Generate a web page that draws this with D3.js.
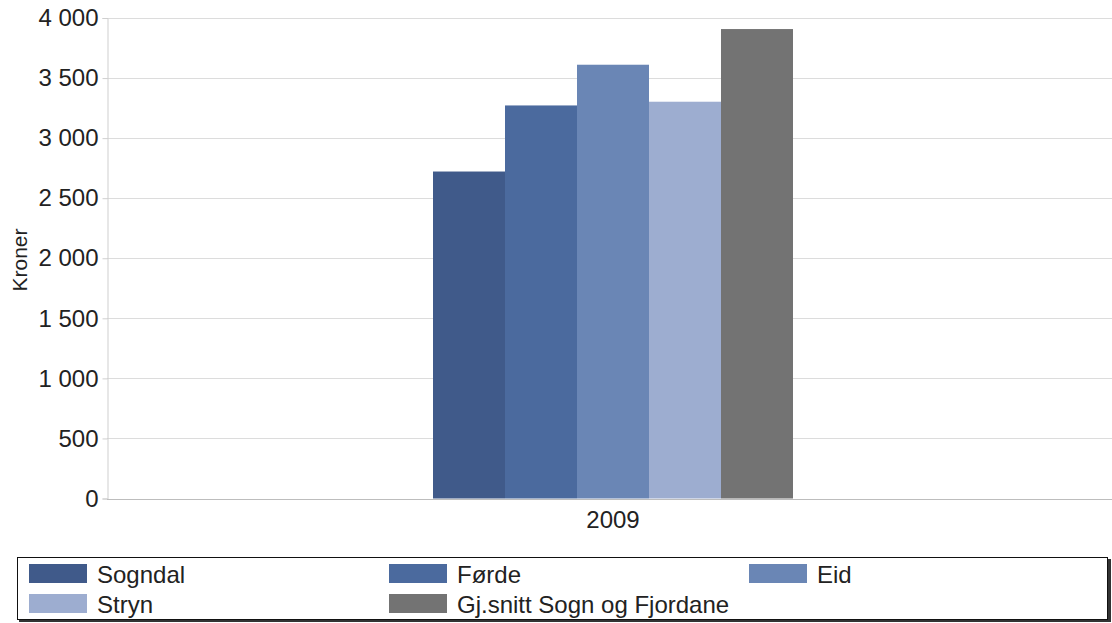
<!DOCTYPE html>
<html>
<head>
<meta charset="utf-8">
<script src="https://cdn.jsdelivr.net/npm/d3@7"></script>
<style>
  html, body { margin: 0; padding: 0; background: #fff; overflow: hidden; }
  svg { display: block; font-family: "Liberation Sans", Arial, sans-serif; }
</style>
</head>
<body>
<svg id="chart" width="1112" height="623"></svg>
<script>
const categories = ["2009"];
const seriesNames = ["Sogndal", "Førde", "Eid", "Stryn", "Gj.snitt Sogn og Fjordane"];
const seriesValues = [2722, 3272, 3611, 3303, 3908];
const seriesColors = ["#405a8a", "#4b6a9e", "#6a86b5", "#9dadd0", "#737373"];
const yTicks = [0, 500, 1000, 1500, 2000, 2500, 3000, 3500, 4000];
const yLabel = "Kroner";

const svg = d3.select("#chart");
const plotLeft = 107, plotRight = 1119, plotTop = 18, plotBottom = 498.5;

const y = d3.scaleLinear().domain([0, 4000]).range([plotBottom, plotTop]);
const x0 = d3.scaleBand().domain(categories).range([plotLeft, plotRight])
  .paddingInner(0).paddingOuter(0.9056);
const x1 = d3.scaleBand().domain(seriesNames).range([0, x0.bandwidth()]).padding(0);

const fmt = v => d3.format(",")(v).replace(/,/g, " ");

// gridlines
svg.append("g").selectAll("line").data(yTicks.filter(d => d > 0)).join("line")
  .attr("x1", plotLeft).attr("x2", 1112)
  .attr("y1", d => Math.round(y(d)) + 0.5).attr("y2", d => Math.round(y(d)) + 0.5)
  .attr("stroke", "#dcdcdc").attr("stroke-width", 1);

// y axis
const yAxis = d3.axisLeft(y).tickValues(yTicks).tickFormat(fmt).tickSize(5).tickPadding(4);
const gy = svg.append("g").attr("transform", `translate(${plotLeft + 0.5},0)`).call(yAxis);
gy.select(".domain").attr("stroke", "#cfcfcf");
gy.selectAll(".tick line").attr("stroke", "#cfcfcf");
gy.selectAll(".tick text").attr("fill", "#222").style("font-size", "24px")
  .style("font-family", "'Liberation Sans', Arial, sans-serif");

// bars
const gBars = svg.append("g");
categories.forEach((c, ci) => {
  gBars.selectAll(null).data(seriesNames).join("rect")
    .attr("x", d => x0(c) + x1(d))
    .attr("y", (d, i) => y(seriesValues[i]))
    .attr("width", x1.bandwidth())
    .attr("height", (d, i) => y(0) - y(seriesValues[i]))
    .attr("fill", (d, i) => seriesColors[i]);
});

// x axis
const xAxis = d3.axisBottom(x0).tickSize(0).tickPadding(11);
const gx = svg.append("g").attr("transform", `translate(0,${Math.round(plotBottom) + 0.5})`).call(xAxis);
gx.select(".domain").attr("stroke", "#bdbdbd").attr("d", `M${plotLeft},0H1112`);
gx.selectAll(".tick text").attr("fill", "#222").style("font-size", "24px")
  .style("font-family", "'Liberation Sans', Arial, sans-serif");

// y label
svg.append("text")
  .attr("transform", "translate(27,260) rotate(-90)")
  .attr("text-anchor", "middle")
  .attr("fill", "#222")
  .style("font-size", "21px")
  .text(yLabel);

// legend
const lg = svg.append("g");
lg.append("rect").attr("x", 19).attr("y", 559).attr("width", 1092).attr("height", 63).attr("fill", "#333");
lg.append("rect").attr("x", 17.5).attr("y", 557.5).attr("width", 1090).attr("height", 62)
  .attr("fill", "#fff").attr("stroke", "#111").attr("stroke-width", 1);
const items = lg.selectAll("g.item").data(seriesNames).join("g").attr("class", "item")
  .attr("transform", (d, i) => `translate(${29 + (i % 3) * 360},${564 + Math.floor(i / 3) * 30})`);
items.append("rect").attr("width", 58).attr("height", 19).attr("fill", (d, i) => seriesColors[i]);
items.append("text").attr("x", 68).attr("y", 19).attr("fill", "#222")
  .style("font-size", "24px").text(d => d);
</script>
</body>
</html>
